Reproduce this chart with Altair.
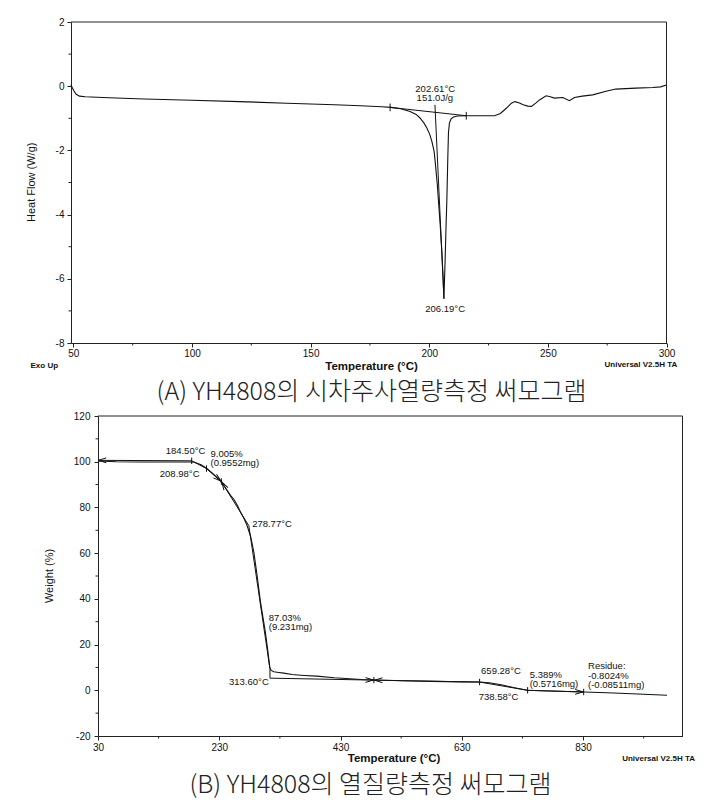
import altair as alt
import pandas as pd

FONT = "Liberation Sans"
KFONT = "Noto Sans CJK KR"
INK = "#111111"
AX = "#222222"

# ---------------- DSC (A) ----------------
dsc_temp = [49, 49.5, 50.2, 51.2, 52.6, 55, 65, 80, 100, 120,
            140, 160, 171, 180, 184, 188, 191.9, 194.5, 196.1, 197.8,
            199.0, 200.2, 201.1, 202.05, 202.5, 203.4, 203.9, 204.6, 205.3, 205.8,
            206.19, 206.7, 207.1, 207.4, 207.8, 208.1, 208.5, 209.2, 210.2, 212,
            215.6, 222, 227.5, 230, 232.6, 234.6, 236.1, 238, 239.6, 241.5,
            243.1, 245, 246.6, 249.3, 251, 252.8, 256.3, 259.1, 261.2, 264.5,
            268.9, 274.5, 278.6, 287.1, 294.2, 297.5, 300]
dsc_heat = [0.05, -0.04, -0.14, -0.25, -0.31, -0.33, -0.36, -0.40, -0.44, -0.48,
            -0.53, -0.58, -0.61, -0.64, -0.66, -0.70, -0.79, -0.88, -0.99, -1.15,
            -1.30, -1.50, -1.72, -2.03, -2.35, -3.07, -3.59, -4.30, -5.15, -5.90,
            -6.62, -5.40, -4.30, -3.60, -2.30, -1.45, -1.15, -1.02, -0.96, -0.93,
            -0.92, -0.92, -0.92, -0.85, -0.68, -0.53, -0.48, -0.52, -0.58, -0.62,
            -0.63, -0.52, -0.42, -0.30, -0.33, -0.37, -0.35, -0.45, -0.35, -0.31,
            -0.27, -0.16, -0.09, -0.06, -0.04, -0.02, 0.04]

dsc_seg_t1 = [183.5, 202.4]
dsc_seg_v1 = [-0.66, -0.58]
dsc_seg_t2 = [215.6, 206.19]
dsc_seg_v2 = [-0.92, -6.62]

dsc_tick_t = [183.5, 215.6]
dsc_tick_v = [-0.66, -0.92]

dsc_label_text = ["202.61°C", "151.0J/g", "206.19°C"]
dsc_label_t = [202.5, 202.35, 206.7]
dsc_label_v = [-0.075, -0.37, -6.93]
dsc_label_align = ["center", "center", "center"]

dsc_x_ticks = [50, 100, 150, 200, 250, 300]
dsc_x_minor = [75, 125, 175, 225, 275]
dsc_y_ticks = [-8, -6, -4, -2, 0, 2]
dsc_y_minor = [-7, -5, -3, -1, 1]

# ---------------- TGA (B) ----------------
tga_temp = [30, 60, 100, 150, 188, 200, 210, 221, 232, 241,
            248.5, 254, 260, 265, 271, 276, 282, 287, 292, 298,
            302, 306, 310, 313.3, 315.6, 320, 328, 336.4, 350, 370,
            391, 420, 464, 485, 530, 580, 630, 658.3, 675, 695,
            715, 737.7, 760, 790, 831, 870, 920, 968.5]
tga_weight = [100.3, 100.0, 99.9, 99.9, 99.9, 98.7, 96.9, 94.4, 91.6, 88.3,
              85.3, 83.6, 80.8, 78.0, 75.0, 72.0, 67.0, 60.5, 51.0, 38.6,
              32.0, 25.5, 17.5, 10.0, 8.7, 8.1, 7.8, 7.5, 6.9, 6.5,
              6.2, 5.5, 4.7, 4.5, 4.2, 3.9, 3.7, 3.6, 3.3, 2.4,
              1.2, 0.0, -0.2, -0.45, -0.75, -1.1, -1.6, -2.2]

tga_seg_t1 = [30.5, 184.5, 208.98, 233.5, 278.77, 313.6, 313.6, 485, 659.28, 738.58]
tga_seg_w1 = [100.6, 100.4, 97.0, 91.3, 72.0, 9.3, 5.3, 4.45, 3.6, 0.0]
tga_seg_t2 = [184.5, 208.98, 233.5, 278.77, 313.6, 313.6, 485, 659.28, 738.58, 831]
tga_seg_w2 = [100.4, 97.0, 91.3, 72.0, 9.3, 5.3, 4.45, 3.6, 0.0, -0.75]

tga_tick_t = [184.5, 208.98, 233.5, 485, 659.28, 738.58, 831]
tga_tick_w = [100.4, 97.0, 91.3, 4.45, 3.6, 0.0, -0.75]

tga_arrow_t = [37, 227.9, 237.6, 477.8, 492.6, 823.6]
tga_arrow_w = [100.6, 92.6, 89.6, 4.5, 4.4, -0.7]
tga_arrow_angle = [180, 40, 238, 0, 180, 0]

tga_label_text = ["184.50°C", "9.005%", "(0.9552mg)", "208.98°C", "278.77°C",
                  "87.03%", "(9.231mg)", "313.60°C", "659.28°C", "738.58°C",
                  "5.389%", "(0.5716mg)", "Residue:", "-0.8024%", "(-0.08511mg)"]
tga_label_t = [174.3, 215.5, 215.5, 197.4, 284.2,
               311.6, 311.6, 311.6, 661.8, 657.9,
               742, 742, 838.2, 838.2, 838.2]
tga_label_w = [104.7, 103.2, 99.3, 94.5, 72.9,
               31.8, 27.6, 3.6, 8.3, -2.9,
               6.8, 2.9, 10.6, 6.4, 2.4]
tga_label_align = ["center", "left", "left", "right", "left",
                   "left", "left", "right", "left", "left",
                   "left", "left", "left", "left", "left"]

tga_x_ticks = [30, 230, 430, 630, 830]
tga_x_minor = [130, 330, 530, 730, 930]
tga_y_ticks = [-20, 0, 20, 40, 60, 80, 100, 120]
tga_y_minor = [-10, 10, 30, 50, 70, 90, 110]

CHEVRON = "M-1,-0.6L1,0L-1,0.6"


def make_axis(values, pad, offset=0):
    return alt.Axis(values=values, title=None, grid=False, tickSize=4, labelPadding=pad,
                    labelFontSize=10, labelFont=FONT, labelColor=INK, labelFlush=False,
                    labelOverlap=False, labelExpr="'' + datum.value", offset=offset,
                    domainColor=AX, tickColor=AX, domainWidth=1)


def ptext(text, x, y, size, weight="normal", angle=0, align="left", font=FONT, color=INK):
    return alt.Chart(pd.DataFrame({"t": [text]})).mark_text(
        align=align, baseline="middle", fontSize=size, fontWeight=weight,
        font=font, angle=angle, color=color
    ).encode(x=alt.value(x), y=alt.value(y), text="t:N")


def panel(W, H, left, xdom, ydom, xt, yt, xminor, yminor, xpad, ypad,
          ct, cv, s1t, s1v, s2t, s2v, tkt, tkv, tkh,
          lt, lv, ltext, lal, arrows, texts, bound):
    # `left` = pixel position (inside the group) of the y axis / plot's left edge
    xs = alt.Scale(domain=xdom, range=[left, W], nice=False, zero=False)
    ys = alt.Scale(domain=ydom, nice=False, zero=False)
    xa = make_axis(xt, xpad)
    ya = make_axis(yt, ypad, offset=-left)

    def X(f):
        return alt.X(f, type="quantitative", scale=xs, axis=xa)

    def Y(f):
        return alt.Y(f, type="quantitative", scale=ys, axis=ya)

    one = pd.DataFrame({"a": [0]})
    layers = []
    # invisible (white) guide that fixes the panel's outer bounds for layout
    bx, by1, by2 = bound
    layers.append(alt.Chart(one).mark_rule(color="white", strokeWidth=1)
                  .encode(x=alt.value(bx), y=alt.value(by1), y2=alt.value(by2)))

    # frame: top and right borders
    layers.append(alt.Chart(one).mark_rule(color=AX, strokeWidth=1)
                  .encode(x=alt.value(left), x2=alt.value(W), y=alt.value(0)))
    layers.append(alt.Chart(one).mark_rule(color=AX, strokeWidth=1)
                  .encode(x=alt.value(W), y=alt.value(0), y2=alt.value(H)))

    curve = pd.DataFrame({"T": ct, "V": cv, "i": list(range(len(ct)))})
    layers.append(alt.Chart(curve).mark_line(color=INK, strokeWidth=1.1)
                  .encode(x=X("T"), y=Y("V"), order="i:Q"))

    seg = pd.DataFrame({"T": s1t, "V": s1v, "T2": s2t, "V2": s2v})
    layers.append(alt.Chart(seg).mark_rule(color=INK, strokeWidth=1)
                  .encode(x=X("T"), y=Y("V"), x2="T2", y2="V2"))

    tk = pd.DataFrame({"T": tkt, "V": [v - tkh for v in tkv], "V2": [v + tkh for v in tkv]})
    layers.append(alt.Chart(tk).mark_rule(color=INK, strokeWidth=1)
                  .encode(x=X("T"), y=Y("V"), y2="V2"))

    # minor ticks
    layers.append(alt.Chart(pd.DataFrame({"T": xminor})).mark_rule(color=AX, strokeWidth=1)
                  .encode(x=X("T"), y=alt.value(H), y2=alt.value(H + 2.5)))
    layers.append(alt.Chart(pd.DataFrame({"V": yminor})).mark_rule(color=AX, strokeWidth=1)
                  .encode(y=Y("V"), x=alt.value(left), x2=alt.value(left - 2.5)))

    if arrows is not None:
        at, aw, aa = arrows
        adf = pd.DataFrame({"T": at, "V": aw, "a": aa})
        layers.append(alt.Chart(adf).mark_point(shape=CHEVRON, filled=False, size=64,
                                                strokeWidth=1, color=INK, opacity=1)
                      .encode(x=X("T"), y=Y("V"), angle=alt.Angle("a:Q", scale=None)))

    ldf = pd.DataFrame({"T": lt, "V": lv, "t": ltext, "al": lal})
    for al in ["left", "center", "right"]:
        sub = ldf[ldf["al"] == al]
        if len(sub):
            layers.append(alt.Chart(sub).mark_text(align=al, baseline="middle", font=FONT,
                                                   fontSize=9.5, color=INK)
                          .encode(x=X("T"), y=Y("V"), text="t:N"))

    for t in texts:
        layers.append(ptext(*t))

    return alt.layer(*layers).properties(width=W, height=H)


# Both panels share the same group origin (pixel x = 97.5); the DSC plot starts 27 px further left.
top = panel(
    568.5, 321, -27, [49, 300], [-8, 2], dsc_x_ticks, dsc_y_ticks, dsc_x_minor, dsc_y_minor, 1, 3,
    dsc_temp, dsc_heat, dsc_seg_t1, dsc_seg_v1, dsc_seg_t2, dsc_seg_v2,
    dsc_tick_t, dsc_tick_v, 0.12,
    dsc_label_t, dsc_label_v, dsc_label_text, dsc_label_align, None,
    [
        ("Heat Flow (W/g)", -66.5, 160.3, 11, "normal", 270, "center"),
        ("Temperature (°C)", 273.5, 345, 11.5, "bold", 0, "center"),
        ("Exo Up", -67.5, 344.3, 8, "bold", 0, "left"),
        ("Universal V2.5H TA", 506.5, 343.3, 8, "bold", 0, "left"),
        ("(A) YH4808의 시차주사열량측정 써모그램", 273.5, 370.3, 25, 300, 0, "center", KFONT, "#222222"),
    ],
    (-92, -15.7, 385),
)

bottom = panel(
    584.5, 320, 0, [30, 994], [-20, 120], tga_x_ticks, tga_y_ticks, tga_x_minor, tga_y_minor, 2, 4,
    tga_temp, tga_weight, tga_seg_t1, tga_seg_w1, tga_seg_t2, tga_seg_w2,
    tga_tick_t, tga_tick_w, 1.4,
    tga_label_t, tga_label_w, tga_label_text, tga_label_align,
    (tga_arrow_t, tga_arrow_w, tga_arrow_angle),
    [
        ("Weight (%)", -48.5, 160, 11, "normal", 270, "center"),
        ("Temperature (°C)", 296, 343, 11.5, "bold", 0, "center"),
        ("Universal V2.5H TA", 524.2, 342.7, 8, "bold", 0, "left"),
        ("(B) YH4808의 열질량측정 써모그램", 272.5, 369, 25, 300, 0, "center", KFONT, "#222222"),
    ],
    (-92, -7.3, 385),
)

chart = alt.vconcat(top, bottom, spacing=0, background="white").configure_view(
    stroke="transparent", strokeOpacity=0, strokeWidth=0
)

chart.save("out.html", embed_options={"renderer": "svg", "actions": False})
